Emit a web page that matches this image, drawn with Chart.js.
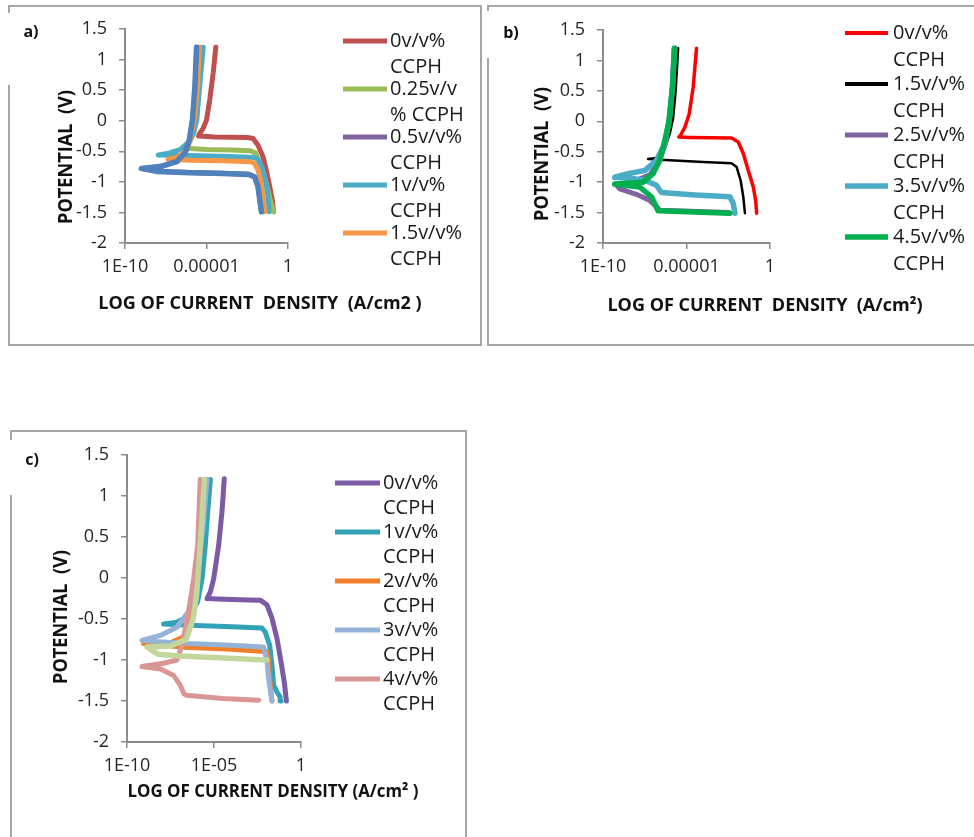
<!DOCTYPE html>
<html>
<head>
<meta charset="utf-8">
<script src="https://cdn.jsdelivr.net/npm/chart.js@4.4.0/dist/chart.umd.min.js"></script>
<style>
  body { margin: 0; background: #fff; width: 974px; height: 837px; position: relative; overflow: hidden; }
  canvas { position: absolute; }
  .ln { position: absolute; background: #a6a6a6; }
</style>
</head>
<body>
<canvas id="chartA" width="482" height="350" style="left:0;top:0"></canvas>
<canvas id="chartB" width="492" height="350" style="left:482px;top:0"></canvas>
<canvas id="chartC" width="470" height="412" style="left:0;top:425px"></canvas>

<!-- frames -->
<div class="ln" style="left:8px;top:5px;width:474px;height:2px"></div>
<div class="ln" style="left:480px;top:5px;width:2px;height:341px"></div>
<div class="ln" style="left:8px;top:344px;width:474px;height:2px"></div>
<div class="ln" style="left:8px;top:5px;width:2px;height:8px"></div>
<div class="ln" style="left:8px;top:85px;width:2px;height:261px"></div>

<div class="ln" style="left:487px;top:5px;width:487px;height:2px"></div>
<div class="ln" style="left:487px;top:5px;width:2px;height:6px"></div>
<div class="ln" style="left:487px;top:58px;width:2px;height:288px"></div>
<div class="ln" style="left:487px;top:344px;width:487px;height:2px"></div>

<div class="ln" style="left:10px;top:430px;width:457px;height:2px"></div>
<div class="ln" style="left:465px;top:430px;width:2px;height:407px"></div>
<div class="ln" style="left:10px;top:430px;width:2px;height:10px"></div>
<div class="ln" style="left:10px;top:495px;width:2px;height:342px"></div>

<script>
// tick values / labels
const yTickValues = [-2, -1.5, -1, -0.5, 0, 0.5, 1, 1.5];
const yTickLabels = ['-2', '-1.5', '-1', '-0.5', '0', '0.5', '1', '1.5'];
const xTickValues = [1e-10, 1e-5, 1];
const xTickLabelsAB = ['1E-10', '0.00001', '1'];
const xTickLabelsC = ['1E-10', '1E-05', '1'];

// series as [log10(current density), potential V]
// panel a
const legendA = [['0v/v%', 'CCPH'], ['0.25v/v', '% CCPH'], ['0.5v/v%', 'CCPH'], ['1v/v%', 'CCPH'], ['1.5v/v%', 'CCPH']];
const a0 = [[-0.88,-1.49],[-0.96,-1.30],[-1.12,-1.08],[-1.33,-0.81],[-1.53,-0.59],[-1.84,-0.40],[-2.14,-0.29],[-2.5,-0.275],[-3.5,-0.27],[-4.5,-0.265],[-5.2,-0.255],[-5.49,-0.25],[-5.45,-0.22],[-5.2,-0.12],[-5.0,0.01],[-4.8,0.34],[-4.59,0.78],[-4.43,1.2]];
const a1 = [[-0.88,-1.49],[-1.08,-1.30],[-1.33,-1.03],[-1.63,-0.75],[-1.98,-0.53],[-2.3,-0.49],[-3.5,-0.48],[-5.0,-0.47],[-6.22,-0.45],[-6.12,-0.40],[-5.82,-0.23],[-5.61,0.01],[-5.49,0.56],[-5.37,1.2]];
const a2 = [[-1.62,-1.49],[-1.72,-1.30],[-1.83,-1.08],[-2.03,-0.92],[-2.4,-0.875],[-4,-0.86],[-6,-0.845],[-8,-0.825],[-8.9,-0.785],[-7.8,-0.75],[-6.8,-0.67],[-6.3,-0.53],[-6.05,-0.32],[-5.85,0.01],[-5.7,0.56],[-5.6,1.2]];
const a3 = [[-1.16,-1.49],[-1.25,-1.2],[-1.4,-0.95],[-1.6,-0.75],[-1.85,-0.63],[-2.1,-0.6],[-3.5,-0.585],[-5.5,-0.575],[-7.0,-0.565],[-7.96,-0.56],[-7.3,-0.53],[-6.6,-0.47],[-6.1,-0.35],[-5.8,-0.2],[-5.6,0.01],[-5.42,0.56],[-5.2,1.2]];
const a4 = [[-1.43,-1.49],[-1.55,-1.2],[-1.7,-0.95],[-1.85,-0.8],[-2.05,-0.7],[-2.3,-0.67],[-4,-0.655],[-6,-0.645],[-7.35,-0.63],[-6.8,-0.6],[-6.3,-0.5],[-6.0,-0.3],[-5.75,0.01],[-5.55,0.56],[-5.45,1.2]];
const a5 = [[-1.63,-1.49],[-1.73,-1.30],[-1.84,-1.08],[-2.04,-0.92],[-2.4,-0.88],[-4,-0.865],[-6,-0.85],[-8,-0.83],[-9.0,-0.78],[-7.86,-0.75],[-6.84,-0.67],[-6.33,-0.53],[-6.06,-0.32],[-5.86,0.01],[-5.71,0.56],[-5.61,1.2]];

// panel b
const legendB = [['0v/v%', 'CCPH'], ['1.5v/v%', 'CCPH'], ['2.5v/v%', 'CCPH'], ['3.5v/v%', 'CCPH'], ['4.5v/v%', 'CCPH']];
const b0 = [[-0.8,-1.51],[-0.86,-1.30],[-1.0,-1.08],[-1.3,-0.81],[-1.6,-0.53],[-1.9,-0.34],[-2.3,-0.275],[-3.5,-0.27],[-4.8,-0.265],[-5.46,-0.26],[-5.36,-0.23],[-5.1,-0.10],[-4.84,0.12],[-4.6,0.56],[-4.4,1.2]];
const b1 = [[-1.5,-1.51],[-1.6,-1.24],[-1.76,-0.97],[-2.0,-0.75],[-2.3,-0.69],[-4,-0.67],[-6,-0.64],[-7.3,-0.62],[-6.7,-0.6],[-6.3,-0.45],[-6.0,-0.2],[-5.8,0.05],[-5.65,0.5],[-5.5,1.2]];
const b2 = [[-2.5,-1.5],[-6.6,-1.46],[-6.9,-1.38],[-7.2,-1.30],[-8.0,-1.2],[-9.0,-1.11],[-9.2,-1.05],[-8.0,-0.97],[-7.2,-0.88],[-6.6,-0.64],[-6.25,-0.35],[-6.05,0.01],[-5.85,0.56],[-5.75,1.2]];
const b3 = [[-2.1,-1.51],[-2.2,-1.35],[-2.4,-1.24],[-4.5,-1.21],[-6.5,-1.17],[-6.8,-1.05],[-7.5,-0.97],[-8.5,-0.93],[-9.3,-0.92],[-8.5,-0.86],[-7.5,-0.81],[-6.8,-0.64],[-6.3,-0.37],[-6.04,0.01],[-5.84,0.56],[-5.72,1.2]];
const b4 = [[-2.4,-1.51],[-4.5,-1.49],[-6.7,-1.47],[-6.8,-1.41],[-7.1,-1.24],[-7.8,-1.08],[-9.3,-1.03],[-7.6,-1.0],[-7.0,-0.86],[-6.6,-0.64],[-6.3,-0.32],[-6.04,0.01],[-5.84,0.56],[-5.7,1.2]];

// panel c
const legendC = [['0v/v%', 'CCPH'], ['1v/v%', 'CCPH'], ['2v/v%', 'CCPH'], ['3v/v%', 'CCPH'], ['4v/v%', 'CCPH']];
const c0 = [[-0.84,-1.50],[-0.96,-1.27],[-1.15,-1.02],[-1.38,-0.74],[-1.67,-0.49],[-1.95,-0.33],[-2.34,-0.27],[-3.5,-0.265],[-4.8,-0.255],[-5.40,-0.25],[-5.21,-0.17],[-5.02,-0.01],[-4.73,0.40],[-4.54,0.81],[-4.41,1.21]];
const c1 = [[-1.15,-1.50],[-1.2,-1.45],[-1.38,-1.39],[-1.57,-1.31],[-1.67,-1.06],[-1.8,-0.82],[-2.05,-0.66],[-2.24,-0.61],[-4,-0.595],[-6,-0.58],[-7.9,-0.56],[-7.13,-0.54],[-6.36,-0.45],[-5.94,-0.29],[-5.69,-0.01],[-5.5,0.40],[-5.36,0.81],[-5.21,1.2]];
const c2 = [[-1.67,-1.50],[-1.8,-1.23],[-1.9,-0.95],[-1.95,-0.90],[-4,-0.87],[-7,-0.84],[-9.04,-0.80],[-7.5,-0.79],[-6.55,-0.70],[-6.26,-0.41],[-5.94,-0.01],[-5.69,0.6],[-5.5,1.2]];
const c3 = [[-1.67,-1.50],[-1.86,-1.23],[-1.95,-1.02],[-2.15,-0.84],[-4,-0.82],[-6.5,-0.8],[-8,-0.78],[-9.14,-0.76],[-8.08,-0.70],[-7.13,-0.60],[-6.46,-0.41],[-6.07,-0.01],[-5.63,0.60],[-5.40,1.2]];
const c4 = [[-2.43,-1.49],[-4.5,-1.47],[-6.6,-1.43],[-6.74,-1.41],[-6.93,-1.31],[-7.32,-1.19],[-8.08,-1.11],[-9.14,-1.08],[-7.9,-1.04],[-7.13,-1.0],[-6.84,-0.82],[-6.46,-0.41],[-6.17,-0.01],[-5.94,0.40],[-5.79,1.2]];
const c5 = [[-1.95,-1.0],[-3,-0.99],[-5,-0.97],[-7,-0.95],[-8.2,-0.93],[-8.6,-0.88],[-8.85,-0.84],[-7.5,-0.83],[-6.6,-0.75],[-6.2,-0.5],[-6.0,-0.2],[-5.85,0.2],[-5.7,0.7],[-5.55,1.2]];

const FONT = '"Open Sans", "Noto Sans", sans-serif';
const AXIS = '#8c8c8c';

// titles, tag letter and legend drawn on top of each chart
const panelText = {
  id: 'panelText',
  afterDraw(chart, args, o) {
    const ctx = chart.ctx;
    ctx.save();
    ctx.fillStyle = '#111';
    ctx.textAlign = 'center';
    ctx.textBaseline = 'middle';
    ctx.font = 'bold 16px ' + FONT;
    ctx.fillText(o.tag, o.tagX, o.tagY);
    ctx.font = 'bold 18px ' + FONT;
    ctx.fillText(o.xTitle, o.xTitleX, o.xTitleY, o.xTitleW);
    ctx.save();
    ctx.translate(o.yTitleX, o.yTitleY);
    ctx.rotate(-Math.PI / 2);
    ctx.font = 'bold 19px ' + FONT;
    ctx.fillText(o.yTitle, 0, 0, 134);
    ctx.restore();

    // legend
    const L = o.legend;
    ctx.font = '20px ' + FONT;
    ctx.textAlign = 'left';
    ctx.fillStyle = '#1a1a1a';
    let y = L.y;
    chart.data.datasets.forEach(ds => {
      if (!ds.legendLines) return;
      ctx.strokeStyle = ds.borderColor;
      ctx.lineWidth = Math.max(ds.borderWidth, 4);
      ctx.beginPath();
      ctx.moveTo(L.x1, y);
      ctx.lineTo(L.x2, y);
      ctx.stroke();
      ds.legendLines.forEach((t, j) => ctx.fillText(t, L.tx, y + j * L.gap));
      y += L.step;
    });
    ctx.restore();
  }
};

function makeChart(id, cfg) {
  const canvas = document.getElementById(id);
  const W = canvas.width, H = canvas.height;
  const YW = 60, XH = 50;
  const area = cfg.area;
  const datasets = cfg.series.map((pts, i) => ({
    label: cfg.legend[i] ? cfg.legend[i].join(' ') : '',
    legendLines: cfg.legend[i] || null,
    data: pts.map(p => ({ x: Math.pow(10, p[0]), y: p[1] })),
    borderColor: cfg.colors[i],
    backgroundColor: cfg.colors[i],
    borderWidth: cfg.widths[i],
    showLine: true,
    pointRadius: 0,
    tension: 0,
    borderJoinStyle: 'round',
    borderCapStyle: 'round',
    order: -i
  }));

  return new Chart(canvas, {
    type: 'scatter',
    data: { datasets },
    options: {
      responsive: false,
      animation: false,
      devicePixelRatio: 1,
      layout: {
        padding: { left: area.left - YW, right: W - area.right, top: area.top, bottom: H - area.bottom - XH }
      },
      scales: {
        x: {
          type: 'logarithmic',
          min: 1e-10,
          max: 1,
          afterBuildTicks: s => { s.ticks = xTickValues.map(v => ({ value: v })); },
          afterFit: s => { s.height = XH; },
          ticks: {
            autoSkip: false,
            maxRotation: 0,
            padding: 7,
            color: '#262626',
            font: { family: FONT, size: 18 },
            callback: (v, i) => cfg.xLabels[i]
          },
          grid: { drawOnChartArea: false, drawTicks: true, tickLength: 6, color: AXIS, lineWidth: 1.5 },
          border: { display: true, color: AXIS, width: 2 }
        },
        y: {
          min: -2,
          max: 1.5,
          afterBuildTicks: s => { s.ticks = yTickValues.map(v => ({ value: v })); },
          afterFit: s => { s.width = YW; },
          ticks: {
            padding: 12,
            color: '#262626',
            font: { family: FONT, size: 18 },
            callback: (v, i) => yTickLabels[i]
          },
          grid: { drawOnChartArea: false, drawTicks: true, tickLength: 6, color: AXIS, lineWidth: 1.5 },
          border: { display: true, color: AXIS, width: 2 }
        }
      },
      plugins: {
        legend: { display: false },
        tooltip: { enabled: false },
        panelText: cfg.text
      }
    },
    plugins: [panelText]
  });
}

makeChart('chartA', {
  area: { left: 125, right: 288, top: 29, bottom: 243 },
  series: [a0, a1, a2, a3, a4, a5],
  legend: legendA,
  colors: ['#C0504D', '#9BBB59', '#8064A2', '#4BACC6', '#F79646', '#4F81BD'],
  widths: [5, 5, 5, 5, 5, 5.5],
  xLabels: xTickLabelsAB,
  text: {
    tag: 'a)', tagX: 31, tagY: 32,
    xTitle: 'LOG OF CURRENT  DENSITY  (A/cm2 )', xTitleX: 260, xTitleY: 304, xTitleW: 326,
    yTitle: 'POTENTIAL  (V)', yTitleX: 67, yTitleY: 157,
    legend: { x1: 343, x2: 387, tx: 390, y: 41, step: 48, gap: 26 }
  }
});

makeChart('chartB', {
  area: { left: 121, right: 288, top: 30, bottom: 243 },
  series: [b0, b1, b2, b3, b4],
  legend: legendB,
  colors: ['#FF0000', '#000000', '#8064A2', '#4BACC6', '#00B050'],
  widths: [3.5, 2.5, 5, 5.5, 5.5],
  xLabels: xTickLabelsAB,
  text: {
    tag: 'b)', tagX: 29, tagY: 33,
    xTitle: 'LOG OF CURRENT  DENSITY  (A/cm\u00B2)', xTitleX: 283, xTitleY: 306, xTitleW: 317,
    yTitle: 'POTENTIAL  (V)', yTitleX: 61, yTitleY: 154,
    legend: { x1: 363, x2: 406, tx: 411, y: 33, step: 51, gap: 27 }
  }
});

makeChart('chartC', {
  area: { left: 127, right: 301, top: 30, bottom: 317 },
  series: [c0, c1, c2, c3, c4, c5],
  legend: legendC,
  colors: ['#7B5AA6', '#31A2B8', '#F07F2A', '#95B3D7', '#D99694', '#C3D69B'],
  widths: [5, 5, 5, 5, 5, 5.5],
  xLabels: xTickLabelsC,
  text: {
    tag: 'c)', tagX: 32, tagY: 35,
    xTitle: 'LOG OF CURRENT DENSITY (A/cm\u00B2 )', xTitleX: 273, xTitleY: 367, xTitleW: 291,
    yTitle: 'POTENTIAL  (V)', yTitleX: 62, yTitleY: 192,
    legend: { x1: 335, x2: 380, tx: 383, y: 58, step: 49, gap: 25 }
  }
});
</script>
</body>
</html>
